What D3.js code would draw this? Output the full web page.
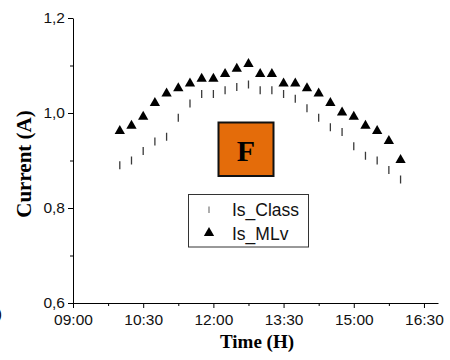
<!DOCTYPE html>
<html lang="en"><head>
<meta charset="utf-8">
<title>Current vs time</title>
<script src="https://cdn.jsdelivr.net/npm/d3@7"></script>
<style>
  body { margin: 0; background: #fff; }
</style>
</head>
<body>
<script type="text/javascript">

var width = 450;
var height = 360;

// data
var times = ["10:00", "10:15", "10:30", "10:45", "11:00", "11:15", "11:30", "11:45", "12:00",
             "12:15", "12:30", "12:45", "13:00", "13:15", "13:30", "13:45", "14:00", "14:15",
             "14:30", "14:45", "15:00", "15:15", "15:30", "15:45", "16:00"];
var isClass = [0.89, 0.90, 0.92, 0.94, 0.95, 0.99, 1.02, 1.04, 1.04, 1.048, 1.055, 1.06, 1.048,
               1.048, 1.04, 1.03, 1.01, 0.99, 0.97, 0.96, 0.93, 0.91, 0.90, 0.88, 0.86];
var isMLv = [0.962, 0.973, 0.992, 1.021, 1.041, 1.052, 1.062, 1.072, 1.072, 1.082, 1.093, 1.103,
             1.082, 1.082, 1.062, 1.062, 1.052, 1.041, 1.021, 1.001, 0.992, 0.973, 0.962, 0.941, 0.901];
var xTickLabels = ["09:00", "10:30", "12:00", "13:30", "15:00", "16:30"];
var yTicks = [0.6, 0.8, 1.0, 1.2];
var yMinor = [0.7, 0.9, 1.1];
var seriesNames = ["Is_Class", "Is_MLv"];

var toMin = (s) => { var p = s.split(":"); return +p[0] * 60 + +p[1]; };
var fmtTime = (m) => d3.format("02d")(Math.floor(m / 60)) + ":" + d3.format("02d")(m % 60);

var svg = d3.select("body").append("svg")
            .attr("width", width)
            .attr("height", height)
            .style("font-family", "'Liberation Sans', Arial, sans-serif");

var x = d3.scaleLinear().domain([540, 1008]).range([73, 438]);
var y = d3.scaleLinear().domain([0.6, 1.2]).range([303, 18]);

// minor ticks first, under the axes
var xMinor = xTickLabels.slice(0, -1).map((s) => toMin(s) + 45);
svg.append("g")
    .attr("transform", "translate(0,303)")
    .call(d3.axisBottom(x).tickValues(xMinor).tickSize(3).tickSizeOuter(0).tickFormat(""))
    .call((g) => g.select(".domain").remove());
svg.append("g")
    .attr("transform", "translate(73,0)")
    .call(d3.axisLeft(y).tickValues(yMinor).tickSize(3).tickSizeOuter(0).tickFormat(""))
    .call((g) => g.select(".domain").remove());

var xAxis = svg.append("g")
    .attr("transform", "translate(0,303)")
    .call(d3.axisBottom(x)
        .tickValues(xTickLabels.map(toMin))
        .tickFormat(fmtTime)
        .tickSize(5)
        .tickPadding(6)
        .tickSizeOuter(0));

var yAxis = svg.append("g")
    .attr("transform", "translate(73,0)")
    .call(d3.axisLeft(y)
        .tickValues(yTicks)
        .tickFormat((d) => d3.format(".1f")(d).replace(".", ","))
        .tickSize(5)
        .tickPadding(3)
        .tickSizeOuter(0));

svg.selectAll(".tick text")
    .style("font-size", "15.5px")
    .style("font-family", "'Liberation Sans', Arial, sans-serif")
    .attr("fill", "#111");
svg.selectAll(".domain, .tick line").attr("stroke", "#000");

// axis titles
svg.append("text")
    .attr("x", 257)
    .attr("y", 348)
    .attr("text-anchor", "middle")
    .style("font-family", "'Liberation Serif', 'Times New Roman', serif")
    .style("font-weight", "bold")
    .style("font-size", "19px")
    .text("Time (H)");

svg.append("text")
    .attr("transform", "translate(31,164) rotate(-90)")
    .attr("text-anchor", "middle")
    .style("font-family", "'Liberation Serif', 'Times New Roman', serif")
    .style("font-weight", "bold")
    .style("font-size", "21px")
    .text("Current (A)");

// stray glyph at the left edge of the reference
svg.append("text")
    .attr("x", -3)
    .attr("y", 319)
    .style("font-size", "15px")
    .attr("fill", "#000")
    .text(")");

// Is_Class markers: short vertical bars
svg.append("g").selectAll("line")
    .data(times)
    .enter()
    .append("line")
    .attr("x1", (d) => x(toMin(d)))
    .attr("x2", (d) => x(toMin(d)))
    .attr("y1", (d, i) => y(isClass[i]) - 4)
    .attr("y2", (d, i) => y(isClass[i]) + 4)
    .attr("stroke", "#3a3a3a")
    .attr("stroke-width", 1.3);

// Is_MLv markers: filled triangles
var tri = d3.symbol().type(d3.symbolTriangle).size(46);
svg.append("g").selectAll("path")
    .data(times)
    .enter()
    .append("path")
    .attr("d", tri)
    .attr("transform", (d, i) => "translate(" + x(toMin(d)) + "," + y(isMLv[i]) + ")")
    .attr("fill", "#000");

// orange "F" box
svg.append("rect")
    .attr("x", 218.5)
    .attr("y", 122.5)
    .attr("width", 55)
    .attr("height", 53.5)
    .attr("fill", "#E46C0A")
    .attr("stroke", "#111")
    .attr("stroke-width", 2);
svg.append("text")
    .attr("x", 246)
    .attr("y", 161)
    .attr("text-anchor", "middle")
    .style("font-family", "'Liberation Serif', 'Times New Roman', serif")
    .style("font-weight", "bold")
    .style("font-size", "30px")
    .attr("fill", "#000")
    .text("F");

// legend
var legend = svg.append("g");
legend.append("rect")
    .attr("x", 188.5)
    .attr("y", 194.5)
    .attr("width", 120)
    .attr("height", 52.5)
    .attr("fill", "#fff")
    .attr("stroke", "#333")
    .attr("stroke-width", 1);
legend.append("line")
    .attr("x1", 209).attr("x2", 209)
    .attr("y1", 206.5).attr("y2", 213)
    .attr("stroke", "#777")
    .attr("stroke-width", 1.2);
legend.append("path")
    .attr("d", tri)
    .attr("transform", "translate(209,233)")
    .attr("fill", "#000");
legend.selectAll("text")
    .data(seriesNames)
    .enter()
    .append("text")
    .attr("x", 232)
    .attr("y", (d, i) => 216 + i * 23.5)
    .style("font-size", "17.5px")
    .attr("fill", "#111")
    .text((d) => d);

</script>
</body></html>
